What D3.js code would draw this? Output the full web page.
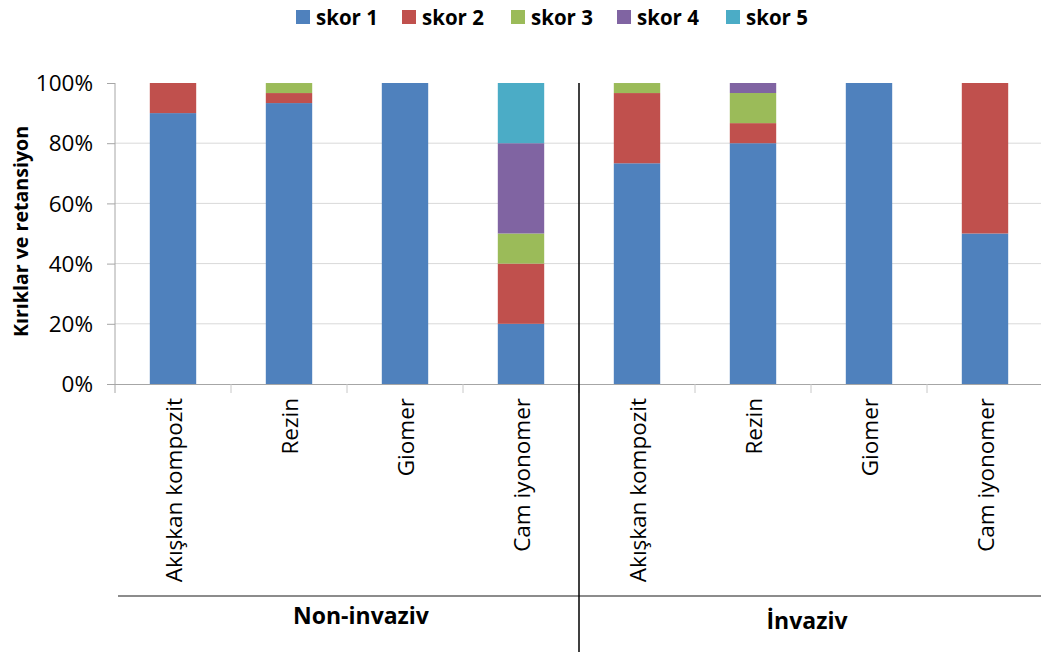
<!DOCTYPE html>
<html><head><meta charset="utf-8">
<script src="https://cdn.jsdelivr.net/npm/d3@7"></script>
<style>body{margin:0;background:#fff;} svg{display:block;}</style>
</head><body>
<svg id="c" width="1041" height="652"></svg>
<script>
const groups = ["Non-invaziv", "İnvaziv"];
const categories = ["Akışkan kompozit", "Rezin", "Giomer", "Cam iyonomer"];
const seriesNames = ["skor 1", "skor 2", "skor 3", "skor 4", "skor 5"];
const colors = ["#4F81BD", "#C0504D", "#9BBB59", "#8064A2", "#4BACC6"];
// values in %, order: Non-invaziv (4 categories), then İnvaziv (4 categories)
const skor1 = [90, 93.33, 100, 20, 73.33, 80, 100, 50];
const skor2 = [10, 3.33, 0, 20, 23.33, 6.67, 0, 50];
const skor3 = [0, 3.33, 0, 10, 3.33, 10, 0, 0];
const skor4 = [0, 0, 0, 30, 0, 3.33, 0, 0];
const skor5 = [0, 0, 0, 20, 0, 0, 0, 0];
const yTicks = [0, 20, 40, 60, 80, 100];

(function () {
const series = [skor1, skor2, skor3, skor4, skor5];
const rows = [];
groups.forEach((g, gi) => categories.forEach((c, ci) => {
  const i = gi * categories.length + ci;
  const r = { key: g + "|" + c, group: g, cat: c };
  seriesNames.forEach((s, si) => r[s] = series[si][i]);
  rows.push(r);
}));

const svg = d3.select("#c");
const mL = 115, mR = 1043, mT = 83, mB = 384;
const font = "'Open Sans', sans-serif";

const x = d3.scaleBand().domain(rows.map(d => d.key)).range([mL, mR]).paddingInner(0.6).paddingOuter(0.3);
const y = d3.scaleLinear().domain([0, 100]).range([mB, mT]);

// gridlines
svg.append("g").selectAll("line").data(yTicks.filter(t => t > 0 && t < 100)).join("line")
  .attr("x1", mL).attr("x2", 1041).attr("y1", d => y(d)).attr("y2", d => y(d))
  .attr("stroke", "#d9d9d9").attr("stroke-width", 1);

// stacked bars
const stack = d3.stack().keys(seriesNames)(rows);
svg.append("g").selectAll("g").data(stack).join("g")
  .attr("fill", (d, i) => colors[i])
  .selectAll("rect").data(d => d.filter(p => p[1] - p[0] > 0)).join("rect")
  .attr("x", d => x(d.data.key)).attr("width", x.bandwidth())
  .attr("y", d => y(d[1])).attr("height", d => y(d[0]) - y(d[1]));

// y axis
const yAxis = d3.axisLeft(y).tickValues(yTicks).tickFormat(d => d + "%").tickSize(8).tickPadding(14);
const ya = svg.append("g").attr("transform", `translate(${mL},0)`).call(yAxis);
ya.select(".domain").attr("stroke", "#a6a6a6").attr("d", `M0,${mT}V${mB + 9}`);
ya.selectAll(".tick line").attr("stroke", "#a6a6a6");
ya.selectAll(".tick text").attr("font-family", font).attr("font-size", 22.5).attr("fill", "#000")
  .attr("dy", "0.34em");

// x axis line
svg.append("line").attr("x1", mL - 8).attr("x2", 1041).attr("y1", mB + 0.5).attr("y2", mB + 0.5)
  .attr("stroke", "#a6a6a6");
// category boundary ticks
const step = x.step();
svg.append("g").selectAll("line").data(d3.range(1, rows.length)).join("line")
  .attr("x1", i => mL + i * step).attr("x2", i => mL + i * step)
  .attr("y1", mB).attr("y2", mB + 9).attr("stroke", "#c8c8c8");

// category labels
svg.append("g").selectAll("text").data(rows).join("text")
  .attr("transform", d => `translate(${x(d.key) + x.bandwidth() / 2 + 9},${mB + 14}) rotate(-90)`)
  .attr("text-anchor", "end").attr("font-family", font).attr("font-size", 22.5).attr("fill", "#000")
  .text(d => d.cat);

// group separator line
svg.append("line").attr("x1", mL + 3).attr("x2", 1041).attr("y1", 596).attr("y2", 596)
  .attr("stroke", "#8c8c8c").attr("stroke-width", 2);
// vertical divider
const divX = mL + categories.length * step;
svg.append("line").attr("x1", divX).attr("x2", divX).attr("y1", mT).attr("y2", 652)
  .attr("stroke", "#000").attr("stroke-width", 1.5);

// group labels
svg.append("g").selectAll("text").data(groups).join("text")
  .attr("x", (g, gi) => gi === 0 ? (mL + divX) / 2 + 14 : (divX + 1041) / 2 - 3)
  .attr("y", (g, gi) => gi === 0 ? 624 : 629)
  .attr("text-anchor", "middle").attr("font-family", font).attr("font-weight", "bold")
  .attr("font-size", 23).attr("fill", "#000").text(d => d);

// y title
svg.append("text").attr("transform", `translate(28,${(mT + mB) / 2 - 2}) rotate(-90)`)
  .attr("text-anchor", "middle").attr("font-family", font).attr("font-weight", "bold")
  .attr("font-size", 19.6).attr("fill", "#000").text("Kırıklar ve retansiyon");

// legend
const legendX = [296, 402, 511, 617, 726];
const lg = svg.append("g").selectAll("g").data(seriesNames).join("g")
  .attr("transform", (d, i) => `translate(${legendX[i]},0)`);
lg.append("rect").attr("x", 0).attr("y", 10).attr("width", 14).attr("height", 14).attr("fill", (d, i) => colors[i]);
lg.append("text").attr("x", 20).attr("y", 25).attr("font-family", font).attr("font-weight", "bold")
  .attr("font-size", 20.5).attr("fill", "#000").text(d => d);
})();
</script>
</body></html>
